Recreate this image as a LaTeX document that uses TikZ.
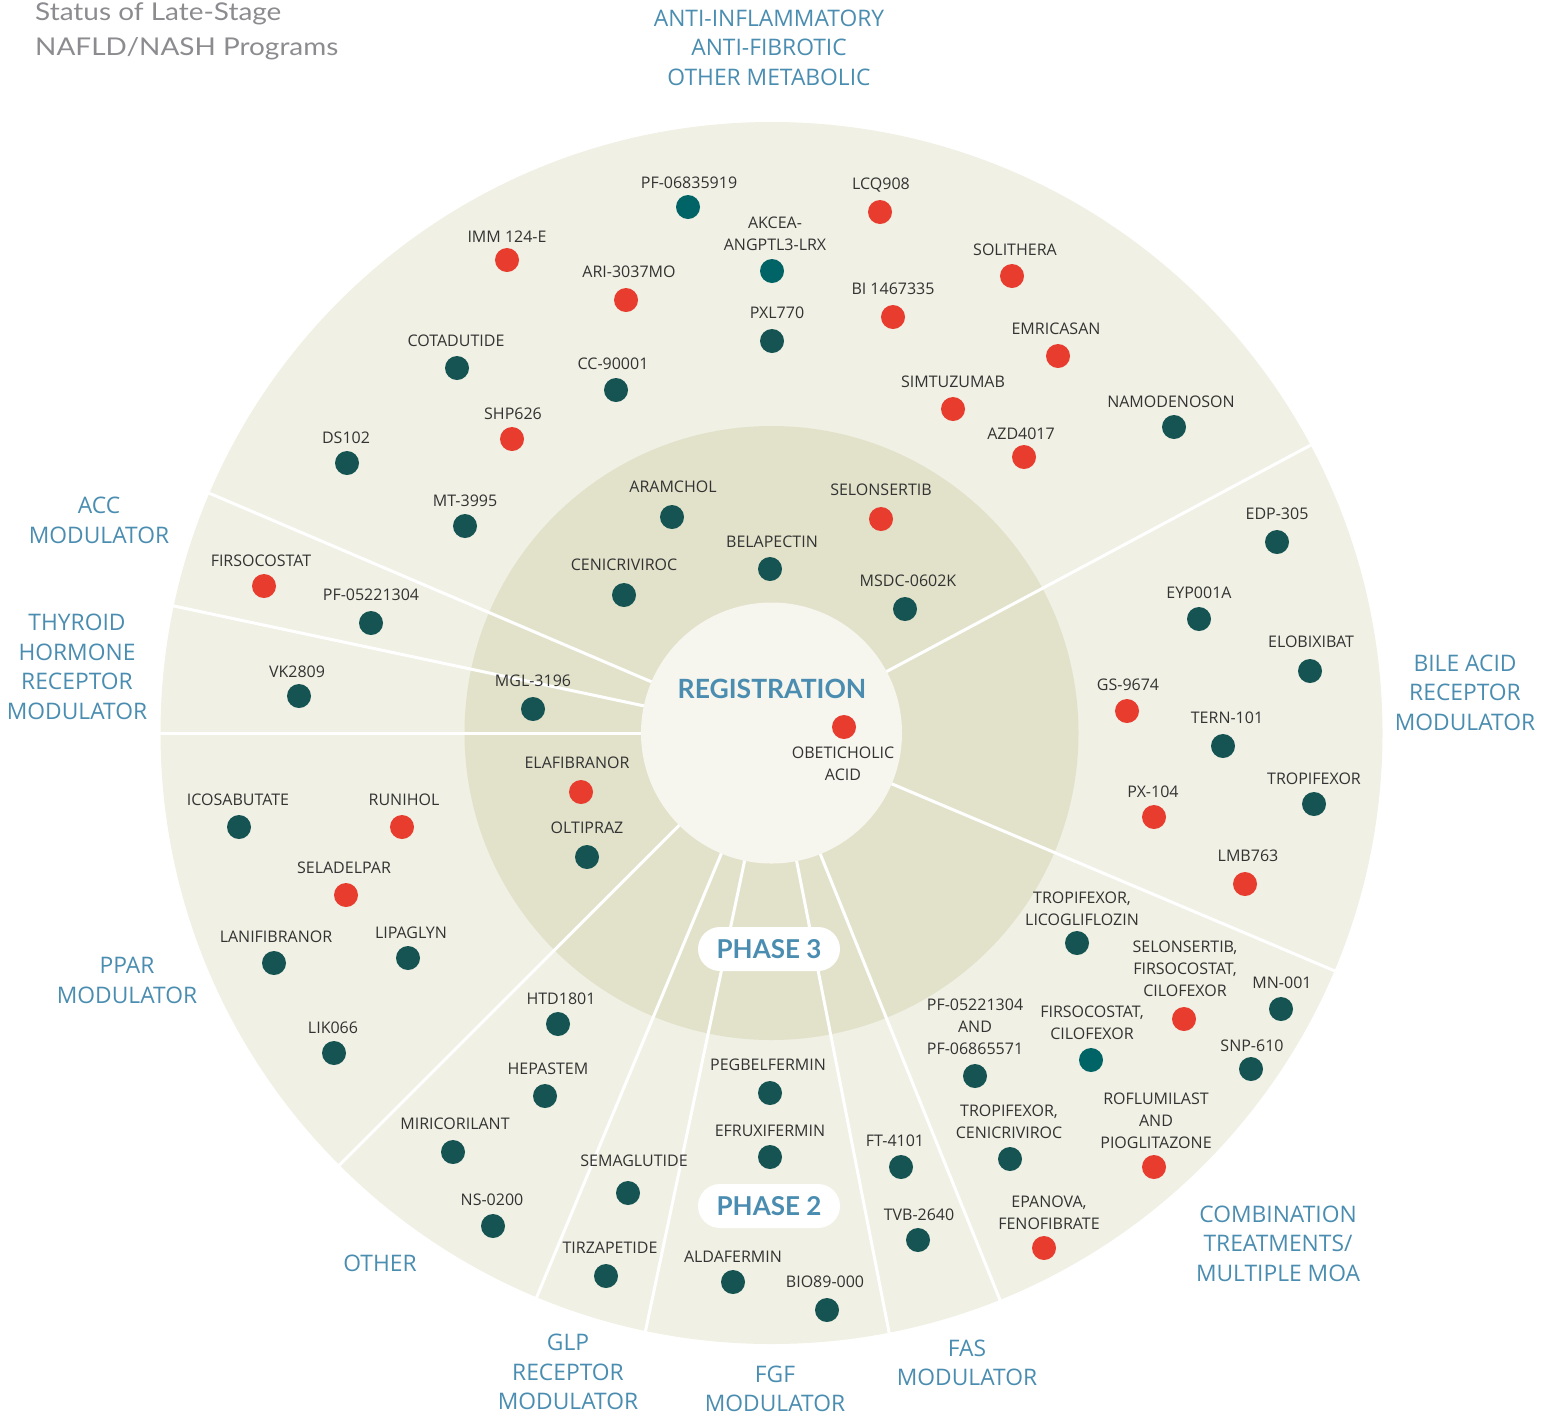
\documentclass[tikz,border=0pt]{standalone}
\usepackage{fontspec}
\setmainfont{Open Sans}
\newfontfamily\headfont{Lato}
\definecolor{outerc}{HTML}{F0F0E4}
\definecolor{midc}{HTML}{E2E2CB}
\definecolor{innerc}{HTML}{F6F5EE}
\definecolor{dotdark}{HTML}{155452}
\definecolor{dotteal}{HTML}{006466}
\definecolor{dotred}{HTML}{E73C2E}
\definecolor{catblue}{HTML}{4A8DB0}
\definecolor{txt}{HTML}{333333}
\definecolor{titlegray}{HTML}{8C8C90}
\begin{document}
\begin{tikzpicture}[x=1pt,y=-1pt,
  dot/.style={circle,inner sep=0pt,minimum size=24pt,draw=none},
  dk/.style={dot,fill=dotdark},
  tl/.style={dot,fill=dotteal},
  rd/.style={dot,fill=dotred},
  lbl/.style={inner sep=0pt,text=txt,align=center,font=\fontsize{16}{22}\selectfont},
  cat/.style={inner sep=0pt,text=catblue,align=center,font=\fontsize{22.8}{29.5}\selectfont},
  ttl/.style={anchor=base west,inner sep=0pt,text=titlegray,font=\headfont\fontsize{24.5}{34}\selectfont},
  phasebox/.style={fill=white,rounded corners=22pt,minimum width=142pt,minimum height=44pt,inner sep=0pt,text=catblue,font=\headfont\bfseries\fontsize{26}{26}\selectfont},
  sepline/.style={draw=white,line width=3pt}]
\useasboundingbox (0,0) rectangle (1552,1417);
\coordinate (c) at (771.5,733);
\fill[outerc] (c) circle (611);
\fill[midc] (c) circle (307);
\foreach \a in {-28.1,22.9,68.05,78.9,101.9,112.6,135,180,192,203.1}
  \draw[sepline] (c) ++(\a:128) -- ++(\a:484);
\fill[innerc] (c) circle (130.5);

% title
\node[ttl] (t1) at (35,20.7) {\scalebox{1.14}[1]{Status of Late-Stage}};
\node[ttl] (t2) at (35,55) {\scalebox{1.14}[1]{NAFLD/NASH Programs}};

% category labels
\node[cat] (c1) at (769,47.5) {ANTI-INFLAMMATORY\\ANTI-FIBROTIC\\OTHER METABOLIC};
\node[cat] (c2) at (99,520.5) {ACC\\MODULATOR};
\node[cat] (c3) at (77,667) {THYROID\\HORMONE\\RECEPTOR\\MODULATOR};
\node[cat] (c4) at (127,980.5) {PPAR\\MODULATOR};
\node[cat] (c5) at (380,1263) {OTHER};
\node[cat] (c6) at (568,1372) {GLP\\RECEPTOR\\MODULATOR};
\node[cat] (c7) at (775,1389) {FGF\\MODULATOR};
\node[cat] (c8) at (967,1363) {FAS\\MODULATOR};
\node[cat] (c9) at (1278,1243.5) {COMBINATION\\TREATMENTS/\\MULTIPLE MOA};
\node[cat] (c10) at (1465,692.5) {BILE ACID\\RECEPTOR\\MODULATOR};

% registration
\node[inner sep=0pt,text=catblue,font=\headfont\bfseries\fontsize{26.5}{26.5}\selectfont] (reg) at (772,689) {REGISTRATION};
\node[rd] (d0) at (844,727) {};
\node[lbl] (l0) at (843,764) {OBETICHOLIC\\ACID};

% phase boxes
\node[phasebox] (p3) at (769,949) {PHASE 3};
\node[phasebox] (p2) at (769,1206) {PHASE 2};

% top sector
\node[tl] (d1) at (688,207) {};   \node[lbl] (l1) at (689,183) {PF-06835919};
\node[rd] (d2) at (880,212) {};   \node[lbl] (l2) at (881,185) {LCQ908};
\node[rd] (d3) at (507,260) {};   \node[lbl] (l3) at (507,237) {IMM 124-E};
\node[tl] (d4) at (772,271) {};   \node[lbl] (l4) at (775,233.5) {AKCEA-\\ANGPTL3-LRX};
\node[rd] (d5) at (1012,276) {};  \node[lbl] (l5) at (1015,250) {SOLITHERA};
\node[rd] (d6) at (626,300) {};   \node[lbl] (l6) at (629,272) {ARI-3037MO};
\node[rd] (d7) at (893,317) {};   \node[lbl] (l7) at (893,289) {BI 1467335};
\node[dk] (d8) at (772,341) {};   \node[lbl] (l8) at (777,313) {PXL770};
\node[rd] (d9) at (1058,356) {};  \node[lbl] (l9) at (1056,329) {EMRICASAN};
\node[dk] (d10) at (457,368) {};  \node[lbl] (l10) at (456,341) {COTADUTIDE};
\node[dk] (d11) at (616,390) {};  \node[lbl] (l11) at (613,364) {CC-90001};
\node[rd] (d12) at (953,409) {};  \node[lbl] (l12) at (953,382) {SIMTUZUMAB};
\node[dk] (d13) at (1174,427) {}; \node[lbl] (l13) at (1171,402) {NAMODENOSON};
\node[rd] (d14) at (512,439) {};  \node[lbl] (l14) at (513,414) {SHP626};
\node[rd] (d15) at (1024,457) {}; \node[lbl] (l15) at (1021,434) {AZD4017};
\node[dk] (d16) at (347,463) {};  \node[lbl] (l16) at (346,438) {DS102};
\node[dk] (d17) at (465,526) {};  \node[lbl] (l17) at (465,501) {MT-3995};

% phase 3 ring top
\node[dk] (d18) at (672,517) {};  \node[lbl] (l18) at (673,487) {ARAMCHOL};
\node[rd] (d19) at (881,519) {};  \node[lbl] (l19) at (881,490) {SELONSERTIB};
\node[dk] (d20) at (770,569) {};  \node[lbl] (l20) at (772,542) {BELAPECTIN};
\node[dk] (d21) at (624,595) {};  \node[lbl] (l21) at (624,565) {CENICRIVIROC};
\node[dk] (d22) at (905,609) {};  \node[lbl] (l22) at (908,581) {MSDC-0602K};

% ACC
\node[rd] (d23) at (264,586) {};  \node[lbl] (l23) at (261,561) {FIRSOCOSTAT};
\node[dk] (d24) at (371,623) {};  \node[lbl] (l24) at (371,595) {PF-05221304};

% thyroid
\node[dk] (d25) at (299,696) {};  \node[lbl] (l25) at (297,672) {VK2809};
\node[dk] (d26) at (533,709) {};  \node[lbl] (l26) at (533,681) {MGL-3196};

% PPAR
\node[rd] (d27) at (581,792) {};  \node[lbl] (l27) at (577,763) {ELAFIBRANOR};
\node[dk] (d28) at (587,857) {};  \node[lbl] (l28) at (587,828) {OLTIPRAZ};
\node[dk] (d29) at (239,827) {};  \node[lbl] (l29) at (238,800) {ICOSABUTATE};
\node[rd] (d30) at (402,827) {};  \node[lbl] (l30) at (404,800) {RUNIHOL};
\node[rd] (d31) at (346,895) {};  \node[lbl] (l31) at (344,868) {SELADELPAR};
\node[dk] (d32) at (274,963) {};  \node[lbl] (l32) at (276,937) {LANIFIBRANOR};
\node[dk] (d33) at (408,958) {};  \node[lbl] (l33) at (411,933) {LIPAGLYN};
\node[dk] (d34) at (334,1053) {}; \node[lbl] (l34) at (333,1028) {LIK066};

% other
\node[dk] (d35) at (558,1024) {}; \node[lbl] (l35) at (561,999) {HTD1801};
\node[dk] (d36) at (545,1096) {}; \node[lbl] (l36) at (548,1069) {HEPASTEM};
\node[dk] (d37) at (453,1152) {}; \node[lbl] (l37) at (455,1124) {MIRICORILANT};
\node[dk] (d38) at (493,1226) {}; \node[lbl] (l38) at (492,1200) {NS-0200};

% GLP
\node[dk] (d39) at (628,1193) {}; \node[lbl] (l39) at (634,1161) {SEMAGLUTIDE};
\node[dk] (d40) at (606,1276) {}; \node[lbl] (l40) at (610,1248) {TIRZAPETIDE};

% FGF
\node[dk] (d41) at (770,1093) {}; \node[lbl] (l41) at (768,1065) {PEGBELFERMIN};
\node[dk] (d42) at (770,1157) {}; \node[lbl] (l42) at (770,1131) {EFRUXIFERMIN};
\node[dk] (d43) at (733,1282) {}; \node[lbl] (l43) at (733,1257) {ALDAFERMIN};
\node[dk] (d44) at (827,1310) {}; \node[lbl] (l44) at (825,1282) {BIO89-000};

% FAS
\node[dk] (d45) at (901,1167) {}; \node[lbl] (l45) at (895,1141) {FT-4101};
\node[dk] (d46) at (918,1240) {}; \node[lbl] (l46) at (919,1215) {TVB-2640};

% combination
\node[dk] (d47) at (1077,943) {};  \node[lbl] (l47) at (1082,908.5) {TROPIFEXOR,\\LICOGLIFLOZIN};
\node[rd] (d48) at (1184,1019) {}; \node[lbl] (l48) at (1185,969) {SELONSERTIB,\\FIRSOCOSTAT,\\CILOFEXOR};
\node[dk] (d49) at (1281,1009) {}; \node[lbl] (l49) at (1282,983) {MN-001};
\node[tl] (d50) at (1091,1060) {}; \node[lbl] (l50) at (1092,1023) {FIRSOCOSTAT,\\CILOFEXOR};
\node[dk] (d51) at (975,1076) {};  \node[lbl] (l51) at (975,1027) {PF-05221304\\AND\\PF-06865571};
\node[dk] (d52) at (1251,1069) {}; \node[lbl] (l52) at (1252,1046) {SNP-610};
\node[rd] (d53) at (1154,1167) {}; \node[lbl] (l53) at (1156,1120.5) {ROFLUMILAST\\AND\\PIOGLITAZONE};
\node[dk] (d54) at (1010,1159) {}; \node[lbl] (l54) at (1009,1121.5) {TROPIFEXOR,\\CENICRIVIROC};
\node[rd] (d55) at (1044,1248) {}; \node[lbl] (l55) at (1049,1212.5) {EPANOVA,\\FENOFIBRATE};

% bile acid
\node[dk] (d56) at (1277,542) {};  \node[lbl] (l56) at (1277,514) {EDP-305};
\node[dk] (d57) at (1199,619) {};  \node[lbl] (l57) at (1199,593) {EYP001A};
\node[dk] (d58) at (1310,671) {};  \node[lbl] (l58) at (1311,642) {ELOBIXIBAT};
\node[rd] (d59) at (1127,711) {};  \node[lbl] (l59) at (1128,685) {GS-9674};
\node[dk] (d60) at (1223,746) {};  \node[lbl] (l60) at (1227,718) {TERN-101};
\node[dk] (d61) at (1314,804) {};  \node[lbl] (l61) at (1314,779) {TROPIFEXOR};
\node[rd] (d62) at (1154,817) {};  \node[lbl] (l62) at (1153,792) {PX-104};
\node[rd] (d63) at (1245,884) {};  \node[lbl] (l63) at (1248,856) {LMB763};
\end{tikzpicture}
\end{document}
